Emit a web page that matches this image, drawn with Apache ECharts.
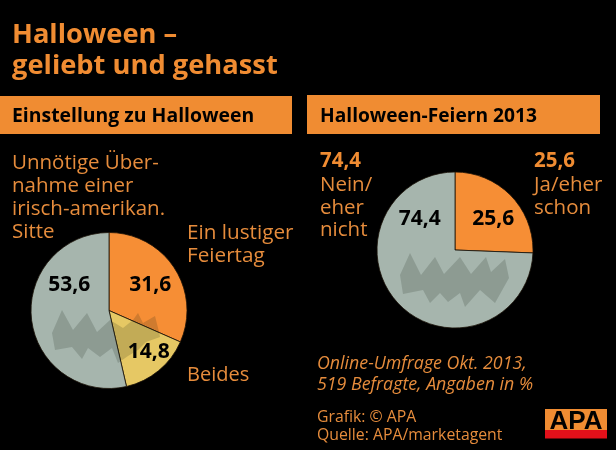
<!DOCTYPE html>
<html><head><meta charset="utf-8">
<style>html,body{margin:0;padding:0;background:#000}#c{width:616px;height:450px}</style>
<script src="https://cdn.jsdelivr.net/npm/echarts@6/dist/echarts.min.js"></script>
</head><body><div id="c"></div>
<script>
var leftNames = ['Ein lustiger Feiertag', 'Beides', 'Unnötige Übernahme einer irisch-amerikan. Sitte'];
var leftValues = [31.6, 14.8, 53.6];
var rightNames = ['Ja/eher schon', 'Nein/eher nicht'];
var rightValues = [25.6, 74.4];
var sliceColors = { orange: '#f68e35', yellow: '#e6c864', grey: '#a6b5ad' };
var leftOffsets = [[6,-3],[13,9],[2,-30]];
var rightOffsets = [[8,-2],[-5,-60]];
var FONT = '"Open Sans"', ORANGE = '#f08c32', TXT = '#e68c3c';

function fmt(v){ return v.toFixed(1).replace('.', ','); }
function pie(cx, names, values, colors, cy, offsets){
  return { type:'pie', center:[cx,cy], radius:[0,78], startAngle:90, clockwise:true, animation:false, silent:true, z:2,
    data:names.map(function(n,i){ return {name:n, value:values[i], itemStyle:{color:colors[i], borderColor:'#1a1208', borderWidth:0.8}, label:{offset:offsets[i]}}; }),
    label:{ show:true, position:'inside', formatter:function(p){return fmt(p.value);}, fontFamily:FONT, fontWeight:'bold', fontSize:21, color:'#000' },
    labelLine:{show:false} };
}
function txt(x,y,s,size,color,weight,style,lh){
  return {type:'text', x:x, y:y, z:10, silent:true, style:{text:s, fill:color, fontFamily:FONT, fontSize:size, fontWeight:weight||'normal', fontStyle:style||'normal', lineHeight:lh||size*1.2, textVerticalAlign:'top', textAlign:'left'}};
}
function bat(pts){ return {type:'polygon', z:5, silent:true, shape:{points:pts}, style:{fill:'rgba(20,30,20,0.17)'}}; }

var chart = echarts.init(document.getElementById('c'), null, {renderer:'canvas'});
chart.setOption({
  backgroundColor:'#000',
  animation:false,
  series:[
    pie(109, leftNames, leftValues, [sliceColors.orange, sliceColors.yellow, sliceColors.grey], 310.5, leftOffsets),
    pie(455, rightNames, rightValues, [sliceColors.orange, sliceColors.grey], 250, rightOffsets)
  ],
  graphic:[
    {type:'rect', z:1, silent:true, shape:{x:0,y:96,width:292,height:38}, style:{fill:ORANGE}},
    {type:'rect', z:1, silent:true, shape:{x:307,y:95,width:293,height:39}, style:{fill:ORANGE}},
    txt(12,20,'Halloween –\ngeliebt und gehasst',27.3,ORANGE,'bold','normal',31),
    txt(12,105,'Einstellung zu Halloween',19.4,'#000','bold'),
    txt(320,105,'Halloween-Feiern 2013',19.2,'#000','bold'),
    txt(12,151.5,'Unnötige Über-\nnahme einer\nirisch-amerikan.\nSitte',20.5,TXT,'normal','normal',23),
    txt(187,222,'Ein lustiger\nFeiertag',20.7,TXT,'normal','normal',23),
    txt(187,364,'Beides',20,TXT,'normal','normal',23),
    txt(320,149,'74,4',20.5,ORANGE,'bold'),
    txt(320,174,'Nein/\neher\nnicht',20.5,TXT,'normal','normal',22.5),
    txt(534,149,'25,6',20.5,ORANGE,'bold'),
    txt(534,174,'Ja/eher\nschon',20.5,TXT,'normal','normal',22.5),
    txt(317,353,'Online-Umfrage Okt. 2013,\n519 Befragte, Angaben in %',17.8,TXT,'normal','italic',21),
    txt(317,408,'Grafik: © APA\nQuelle: APA/marketagent',15.8,TXT,'normal','normal',18),
    {type:'rect', silent:true, shape:{x:545,y:409,width:62,height:21}, style:{fill:ORANGE}},
    {type:'rect', silent:true, shape:{x:545,y:430,width:62,height:8.5}, style:{fill:'#e2101a'}},
    {type:'text', x:576, y:409, silent:true, z:10, style:{text:'APA', fill:'#000', fontFamily:'"Liberation Sans"', fontWeight:'bold', fontSize:26, textAlign:'center', textVerticalAlign:'top'}},
    bat([[52,333],[62,310],[73,330],[87,313],[97,332],[110,320],[123,328],[133,320],[138,313],[143,323],[155,316],[159,332],[160,337],[146,342],[138,350],[128,356],[118,363],[112,348],[100,357],[88,348],[82,359],[72,347],[55,350]]),
    bat([[400,275],[410,253],[421,275],[435,257],[444,274],[460,257],[471,274],[486,257],[491,272],[505,259],[509,278],[495,303],[480,290],[465,307],[460,293],[448,302],[440,293],[430,303],[423,290],[403,294]])
  ]
});
</script></body></html>
